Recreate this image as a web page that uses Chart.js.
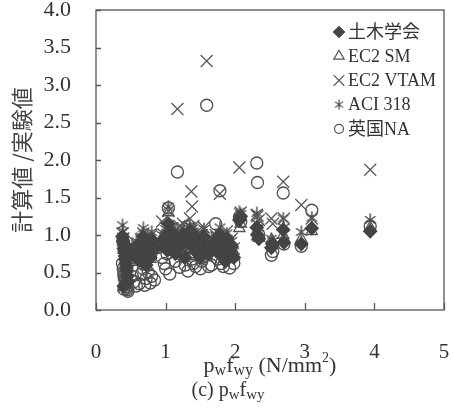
<!DOCTYPE html>
<html>
<head>
<meta charset="utf-8">
<script src="https://cdn.jsdelivr.net/npm/chart.js@4.4.1/dist/chart.umd.min.js"></script>
<style>
  html, body { margin: 0; padding: 0; background: #fff; }
  #wrap { width: 455px; height: 409px; }
</style>
</head>
<body>
<div id="wrap"><canvas id="chart_pwfwy" width="455" height="409"></canvas></div>
<script>
// --- Data: calculated / experimental shear ratio vs. pw*fwy (N/mm2) ---
// one entry per specimen, same order in every array
const pwfwy = [
  0.38, 0.39, 0.40, 0.40, 0.41, 0.42, 0.42, 0.43, 0.44, 0.44, 0.45, 0.46, 0.40,
  0.52, 0.55, 0.58, 0.62, 0.65, 0.68, 0.70, 0.72, 0.75, 0.78, 0.80, 0.84,
  0.95, 0.98, 1.00, 1.02, 1.04, 1.06, 1.10, 1.14, 1.17, 1.20, 1.25, 1.28,
  1.32, 1.35, 1.37, 1.38, 1.40, 1.43, 1.46, 1.50, 1.52, 1.55, 1.59, 1.62, 1.66,
  1.72, 1.75, 1.78, 1.80, 1.83, 1.86, 1.88, 1.92, 1.95, 1.98,
  2.06, 2.08, 2.31, 2.32, 2.34, 2.52, 2.54, 2.69, 2.70, 2.95, 3.10, 3.94
];
const ratioJSCE = [
  0.98, 0.92, 0.88, 0.82, 0.78, 0.72, 0.68, 0.62, 0.58, 0.52, 0.45, 0.38, 0.32,
  0.80, 0.72, 0.85, 0.66, 0.90, 0.98, 0.76, 0.60, 0.88, 0.70, 0.94, 0.82,
  0.92, 0.85, 0.98, 0.80, 1.15, 0.90, 1.02, 0.75, 0.95, 0.85, 1.00, 0.70,
  0.90, 1.05, 0.95, 0.85, 1.00, 0.78, 0.92, 0.70, 0.88, 0.98, 0.82, 0.75, 0.85,
  0.92, 0.80, 1.00, 0.72, 0.88, 0.65, 0.95, 0.78, 0.85, 0.70,
  1.20, 1.25, 1.10, 1.00, 0.95, 0.83, 0.88, 1.07, 0.90, 0.88, 1.09, 1.05
];
const ratioEC2SM = [
  0.95, 0.90, 0.85, 0.80, 0.76, 0.70, 0.65, 0.60, 0.55, 0.50, 0.44, 0.37, 0.30,
  0.78, 0.70, 0.83, 0.64, 0.88, 0.95, 0.74, 0.58, 0.85, 0.68, 0.90, 0.80,
  0.95, 0.88, 1.02, 0.82, 1.30, 0.93, 1.05, 0.78, 0.98, 0.88, 1.03, 0.72,
  0.92, 1.08, 0.98, 0.88, 1.02, 0.80, 0.95, 0.72, 0.90, 1.00, 0.85, 0.78, 0.88,
  0.95, 0.82, 1.02, 0.75, 0.90, 0.68, 0.98, 0.80, 0.88, 0.72,
  1.09, 1.15, 1.05, 0.98, 0.96, 0.93, 0.90, 1.00, 0.95, 0.95, 1.05, 1.10
];
const ratioEC2VTAM = [
  1.02, 0.95, 0.90, 0.84, 0.80, 0.74, 0.70, 0.64, 0.60, 0.55, 0.48, 0.40, 0.33,
  0.82, 0.76, 0.88, 0.70, 0.94, 1.02, 0.80, 0.66, 0.95, 0.75, 1.00, 0.88,
  1.18, 1.00, 1.10, 0.95, 1.32, 1.02, 1.08, 0.88, 2.68, 1.12, 1.15, 0.82,
  1.00, 1.22, 1.58, 1.38, 1.12, 0.90, 1.05, 0.85, 1.00, 1.10, 3.32, 0.95, 0.92,
  1.00, 0.90, 1.55, 0.85, 0.98, 0.78, 1.05, 0.92, 0.95, 0.82,
  1.90, 1.30, 1.27, 1.25, 1.20, 1.22, 1.15, 1.71, 1.22, 1.40, 1.22, 1.87
];
const ratioACI318 = [
  1.13, 1.05, 0.98, 0.90, 0.85, 0.80, 0.74, 0.68, 0.62, 0.57, 0.50, 0.42, 0.35,
  0.86, 0.78, 0.92, 0.72, 0.98, 1.09, 0.83, 0.65, 0.96, 0.78, 1.04, 0.90,
  1.00, 0.95, 1.08, 0.90, 1.38, 1.00, 1.12, 0.85, 1.05, 0.95, 1.10, 0.80,
  0.98, 1.12, 1.08, 0.95, 1.10, 0.88, 1.02, 0.80, 0.98, 1.08, 0.92, 0.88, 0.95,
  1.00, 0.88, 1.10, 0.80, 0.95, 0.72, 1.02, 0.85, 0.92, 0.78,
  1.31, 1.28, 1.29, 1.15, 1.10, 0.95, 0.92, 1.22, 1.10, 1.04, 1.23, 1.20
];
const ratioUKNA = [
  0.62, 0.55, 0.50, 0.46, 0.42, 0.40, 0.36, 0.34, 0.31, 0.29, 0.27, 0.25, 0.28,
  0.45, 0.38, 0.32, 0.35, 0.48, 0.55, 0.33, 0.42, 0.50, 0.36, 0.45, 0.40,
  0.70, 0.62, 0.55, 0.75, 1.36, 0.48, 0.80, 0.65, 1.84, 0.57, 0.72, 0.60,
  0.52, 0.85, 0.75, 0.68, 0.62, 0.58, 0.80, 0.55, 0.65, 0.72, 2.73, 0.58, 0.60,
  1.15, 0.68, 1.59, 0.62, 0.58, 0.70, 0.85, 0.56, 0.75, 0.62,
  1.24, 1.18, 1.96, 1.70, 1.00, 0.73, 0.78, 1.56, 0.88, 0.85, 1.33, 1.12
];
const seriesNames = ['土木学会', 'EC2 SM', 'EC2 VTAM', 'ACI 318', '英国NA'];
const xRange = [0, 5];
const yRange = [0, 4];

const SERIF = "'Liberation Serif', 'Times New Roman', serif";
const CJK = "'Noto Sans CJK JP', sans-serif";

// six-armed asterisk marker (vertical + two diagonals)
function makeAsterisk(size, color, lw) {
  const c = document.createElement('canvas');
  c.width = size; c.height = size;
  const g = c.getContext('2d');
  g.strokeStyle = color;
  g.lineWidth = lw;
  const r = size / 2 - 0.5;
  g.beginPath();
  [90, 35, 145].forEach(deg => {
    const a = deg * Math.PI / 180;
    g.moveTo(size / 2 - Math.cos(a) * r, size / 2 - Math.sin(a) * r);
    g.lineTo(size / 2 + Math.cos(a) * r, size / 2 + Math.sin(a) * r);
  });
  g.stroke();
  return c;
}

const toPoints = arr => pwfwy.map((x, i) => ({ x: x, y: arr[i] }));

// marker look per series
const markers = [
  { style: 'rectRot', radius: 6.5, fill: '#444', stroke: '#444', legendRadius: 5.5 },
  { style: 'triangle', radius: 6.5, fill: 'rgba(0,0,0,0)', stroke: '#555', legendRadius: 6 },
  { style: 'crossRot', radius: 8.5, fill: 'rgba(0,0,0,0)', stroke: '#5a5a5a', legendRadius: 7.5 },
  { style: makeAsterisk(14, '#444', 1.4), radius: 6, fill: 'rgba(0,0,0,0)', stroke: '#444',
    legendStyle: makeAsterisk(11, '#444', 1.2), legendRadius: 5 },
  { style: 'circle', radius: 6, fill: 'rgba(0,0,0,0)', stroke: '#505050', legendRadius: 4.5 }
];
const seriesValues = [ratioJSCE, ratioEC2SM, ratioEC2VTAM, ratioACI318, ratioUKNA];

const datasets = seriesNames.map((name, i) => ({
  label: name,
  data: toPoints(seriesValues[i]),
  pointStyle: markers[i].style,
  pointRadius: markers[i].radius,
  pointBackgroundColor: markers[i].fill,
  pointBorderColor: markers[i].stroke,
  pointBorderWidth: 1.3,
  showLine: false
}));

// box frame + inward tick marks
const frameAndTicks = {
  id: 'frameAndTicks',
  afterDatasetsDraw(chart) {
    const { ctx, chartArea: a, scales: { x, y } } = chart;
    ctx.save();
    ctx.strokeStyle = '#555';
    ctx.lineWidth = 1.3;
    ctx.strokeRect(a.left, a.top, a.right - a.left, a.bottom - a.top);
    ctx.beginPath();
    x.ticks.forEach(t => {
      const px = Math.round(x.getPixelForValue(t.value)) + 0.5;
      ctx.moveTo(px, a.bottom); ctx.lineTo(px, a.bottom - 7);
    });
    y.ticks.forEach(t => {
      const py = Math.round(y.getPixelForValue(t.value)) + 0.5;
      ctx.moveTo(a.left, py); ctx.lineTo(a.left + 5, py);
    });
    ctx.stroke();
    ctx.restore();
  }
};

// legend inside the plot, top right
const insideLegend = {
  id: 'insideLegend',
  afterDraw(chart) {
    const { ctx } = chart;
    const mx = 339, tx = 348, y0 = 32, step = 24.2;
    ctx.save();
    seriesNames.forEach((name, i) => {
      const m = markers[i];
      const y = y0 + i * step;
      ctx.fillStyle = m.fill;
      ctx.strokeStyle = m.stroke;
      ctx.lineWidth = 1.2;
      Chart.helpers.drawPoint(ctx, {
        pointStyle: m.legendStyle || m.style,
        radius: m.legendRadius,
        borderWidth: 1.2,
        rotation: 0
      }, mx, y);
      ctx.fillStyle = '#333';
      ctx.font = "18px " + SERIF + ", " + CJK;
      ctx.textBaseline = 'middle';
      ctx.textAlign = 'left';
      ctx.fillText(name, tx, y + 1);
    });
    ctx.restore();
  }
};

// text with sub/superscripts: parts = [text, size, baseline shift]
function richText(ctx, parts, cx, baseY) {
  let w = 0;
  parts.forEach(p => { ctx.font = p[1] + 'px ' + SERIF; w += ctx.measureText(p[0]).width; });
  let x = cx - w / 2;
  parts.forEach(p => {
    ctx.font = p[1] + 'px ' + SERIF;
    ctx.fillText(p[0], x, baseY + p[2]);
    x += ctx.measureText(p[0]).width;
  });
}

const axisTexts = {
  id: 'axisTexts',
  afterDraw(chart) {
    const { ctx } = chart;
    ctx.save();
    ctx.fillStyle = '#333';
    ctx.textBaseline = 'alphabetic';
    ctx.textAlign = 'left';
    richText(ctx, [['p', 22, 0], ['w', 16, 3], ['f', 22, 0], ['wy', 16, 3],
                   [' (N/mm', 22, 0], ['2', 14, -10], [')', 22, 0]], 270, 372);
    richText(ctx, [['(c) p', 20, 0], ['w', 15, 3], ['f', 20, 0], ['wy', 15, 3]], 228, 396);
    ctx.restore();
  }
};

new Chart(document.getElementById('chart_pwfwy').getContext('2d'), {
  type: 'scatter',
  data: { datasets: datasets },
  options: {
    responsive: false,
    devicePixelRatio: 1,
    animation: false,
    events: [],
    layout: { padding: { top: 10, right: 11, left: 0, bottom: 0 } },
    scales: {
      x: {
        type: 'linear',
        min: xRange[0], max: xRange[1],
        ticks: { stepSize: 1, color: '#333', padding: 30, font: { family: SERIF, size: 21 } },
        grid: { display: false, drawTicks: false },
        border: { display: false },
        afterFit: s => { s.height = 99; s.paddingLeft = 0; s.paddingRight = 0; }
      },
      y: {
        type: 'linear',
        min: yRange[0], max: yRange[1],
        ticks: {
          stepSize: 0.5, color: '#333', padding: 25,
          font: { family: SERIF, size: 22 },
          callback: v => v.toFixed(1)
        },
        grid: { display: false, drawTicks: false },
        border: { display: false },
        title: {
          display: true,
          text: '計算値 /実験値',
          color: '#444',
          font: { family: CJK, size: 22 },
          padding: { top: 8, bottom: 0 }
        },
        afterFit: s => { s.width = 96; s.paddingTop = 0; s.paddingBottom = 0; }
      }
    },
    plugins: {
      legend: { display: false },
      tooltip: { enabled: false }
    }
  },
  plugins: [frameAndTicks, insideLegend, axisTexts]
});
</script>
</body>
</html>
